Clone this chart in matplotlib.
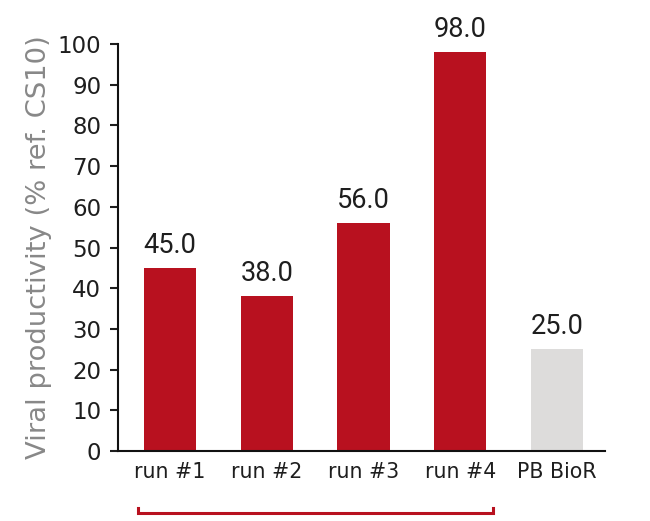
import matplotlib
matplotlib.use("Agg")
import matplotlib.pyplot as plt
from matplotlib.transforms import blended_transform_factory

categories = ["run #1", "run #2", "run #3", "run #4", "PB BioR"]
values = [45.0, 38.0, 56.0, 98.0, 25.0]
colors = ["#B8111F", "#B8111F", "#B8111F", "#B8111F", "#DDDCDB"]
yticks = [0, 10, 20, 30, 40, 50, 60, 70, 80, 90, 100]

plt.rcParams['font.family'] = ['DejaVu Sans']

fig = plt.figure(figsize=(6.5, 5.21), dpi=100)
ax = fig.add_axes([0.1815, 0.1344, 0.931 - 0.1815, 0.9155 - 0.1344])

x = list(range(len(categories)))
bars = ax.bar(x, values, width=0.54, color=colors)
for xi, v in zip(x, values):
    ax.text(xi, v + 3.7, f"{v:.1f}", ha="center", va="baseline", fontsize=19.5,
            color="#1E1E1E", family=["Roboto", "DejaVu Sans"])

ax.set_xlim(-0.54, 4.5)
ax.set_ylim(0, 100)
ax.set_yticks(yticks)
ax.set_xticks(x)
ax.set_xticklabels(categories)
ax.tick_params(axis="y", direction="out", length=6, width=1.5, labelsize=16.5, colors="#1E1E1E", pad=6)
ax.tick_params(axis="x", length=0, labelsize=14.8, colors="#1E1E1E", pad=8)
for s in ["top", "right"]:
    ax.spines[s].set_visible(False)
for s in ["left", "bottom"]:
    ax.spines[s].set_linewidth(1.5)
    ax.spines[s].set_color("#111111")
ax.set_ylabel("Viral productivity (% ref. CS10)", fontsize=19.7, color="#888888", labelpad=4)

tr = blended_transform_factory(ax.transData, ax.transAxes)
ax.plot([-0.33, -0.33, 3.34, 3.34], [-0.14, -0.152, -0.152, -0.14], color="#B8111F",
        lw=2.2, transform=tr, clip_on=False, solid_joinstyle="miter")

fig.savefig("out.png", dpi=100)
